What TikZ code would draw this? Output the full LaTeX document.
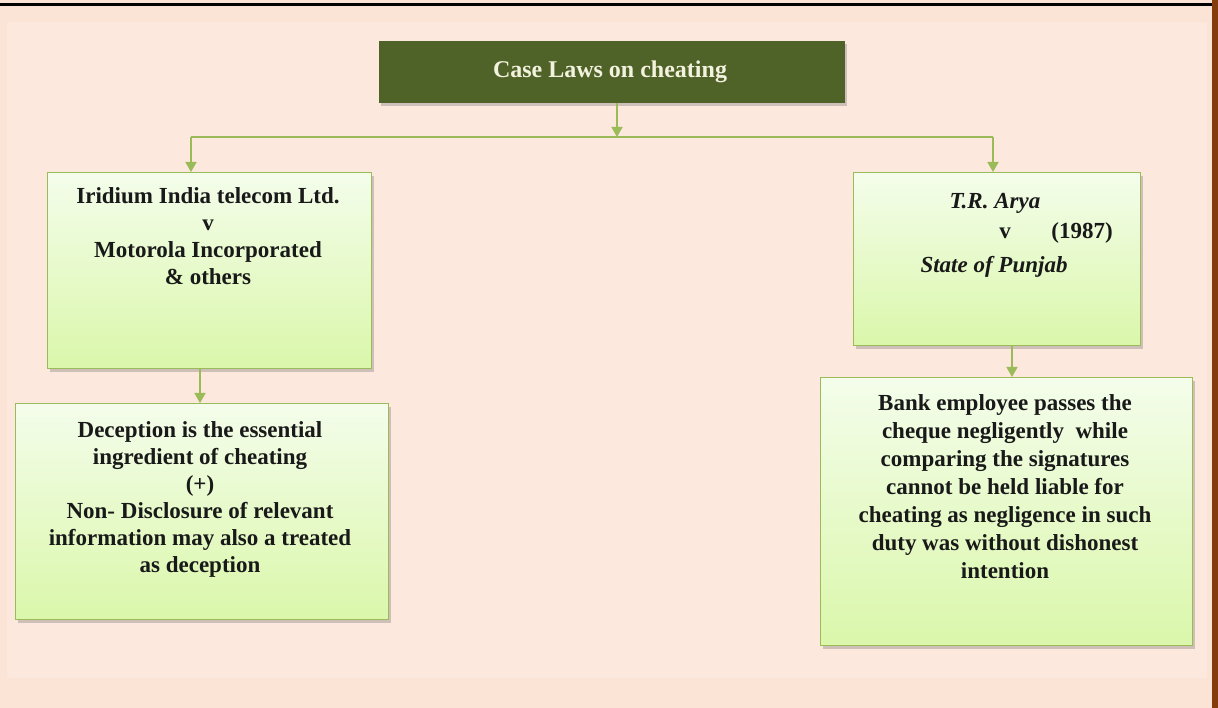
\documentclass[tikz,border=0pt]{standalone}
\usepackage{fontspec}
\setmainfont{Liberation Serif}
\usetikzlibrary{shadows,arrows.meta}
\definecolor{bgout}{HTML}{FBE3D6}
\definecolor{bgin}{HTML}{FCE8DC}
\definecolor{olive}{HTML}{4F6228}
\definecolor{lgreen}{HTML}{9BBB59}
\definecolor{brownbar}{HTML}{843C0C}
\definecolor{boxtop}{HTML}{F4FDEB}
\definecolor{boxbot}{HTML}{DAF7AA}
\definecolor{cream}{HTML}{F2F2DE}
\tikzset{
  x=1pt, y=-1pt,
  shade/.style={drop shadow={shadow xshift=2pt, shadow yshift=-3pt, opacity=0.3, fill=black!60}},
  casebox/.style={draw=lgreen, line width=1.2pt, top color=boxtop, bottom color=boxbot, shade,
    inner sep=0pt, anchor=north west},
  boxtext/.style={align=center, inner sep=0pt, font=\bfseries\fontsize{23}{27}\selectfont, text=black!90, anchor=north},
  rtext/.style={inner sep=0pt, font=\bfseries\fontsize{23}{27}\selectfont, text=black!90},
  conn/.style={draw=lgreen, line width=1.6pt},
  arr/.style={conn, -{Triangle[width=11pt,length=10pt]}}
}
\begin{document}
\begin{tikzpicture}
\useasboundingbox (0,0) rectangle (1218,708);
\fill[bgout] (0,0) rectangle (1218,708);
\fill[bgin] (7,22) rectangle (1207,678);
\fill[brownbar] (1212,0) rectangle (1218,708);
\draw[black, line width=3pt] (0,5) -- (1212,5);

% top box
\node[fill=olive, minimum width=466pt, minimum height=62pt, inner sep=0pt, anchor=north west, shade] (top) at (379,41) {};
\node[inner sep=0pt, font=\bfseries\fontsize{24}{27}\selectfont, text=cream] (toptext) at (610,72) {Case Laws on cheating};

% left boxes
\node[casebox, minimum width=324pt, minimum height=196pt] (L1) at (47,172) {};
\node[boxtext] (L1t) at (208,187) {Iridium India telecom Ltd.\\v\\Motorola Incorporated\\\& others};
\node[casebox, minimum width=373pt, minimum height=216pt] (L2) at (15,403) {};
\node[boxtext] (L2t) at (200,421) {Deception is the essential\\ingredient of cheating\\(+)\\Non- Disclosure of relevant\\information may also a treated\\as deception};

% right boxes
\node[casebox, minimum width=287pt, minimum height=173pt] (R1) at (853,172) {};
\node[rtext, font=\bfseries\itshape\fontsize{23}{27}\selectfont] (R1a) at (995,203) {T.R. Arya};
\node[rtext] (R1b) at (1005,233) {v};
\node[rtext] (R1y) at (1082,233) {(1987)};
\node[rtext, font=\bfseries\itshape\fontsize{23}{27}\selectfont] (R1c) at (994,267) {State of Punjab};
\node[casebox, minimum width=372pt, minimum height=268pt] (R2) at (820,377) {};
\node[boxtext, font=\bfseries\fontsize{23}{28}\selectfont] (R2t) at (1005,394) {Bank employee passes the\\cheque negligently\ \ while\\comparing the signatures\\cannot be held liable for\\cheating as negligence in such\\duty was without dishonest\\intention};

% connectors
\coordinate (hl) at (191,137);
\coordinate (hr) at (993,137);
\draw[arr] (top.south -| 617,0) -- (617,137);
\draw[conn] (hl) -- (hr);
\draw[arr] (hl) -- (L1.north -| hl);
\draw[arr] (hr) -- (R1.north -| hr);
\draw[arr] (L1.south -| 200,0) -- (L2.north -| 200,0);
\draw[arr] (R1.south -| 1012,0) -- (R2.north -| 1012,0);
\end{tikzpicture}
\end{document}
